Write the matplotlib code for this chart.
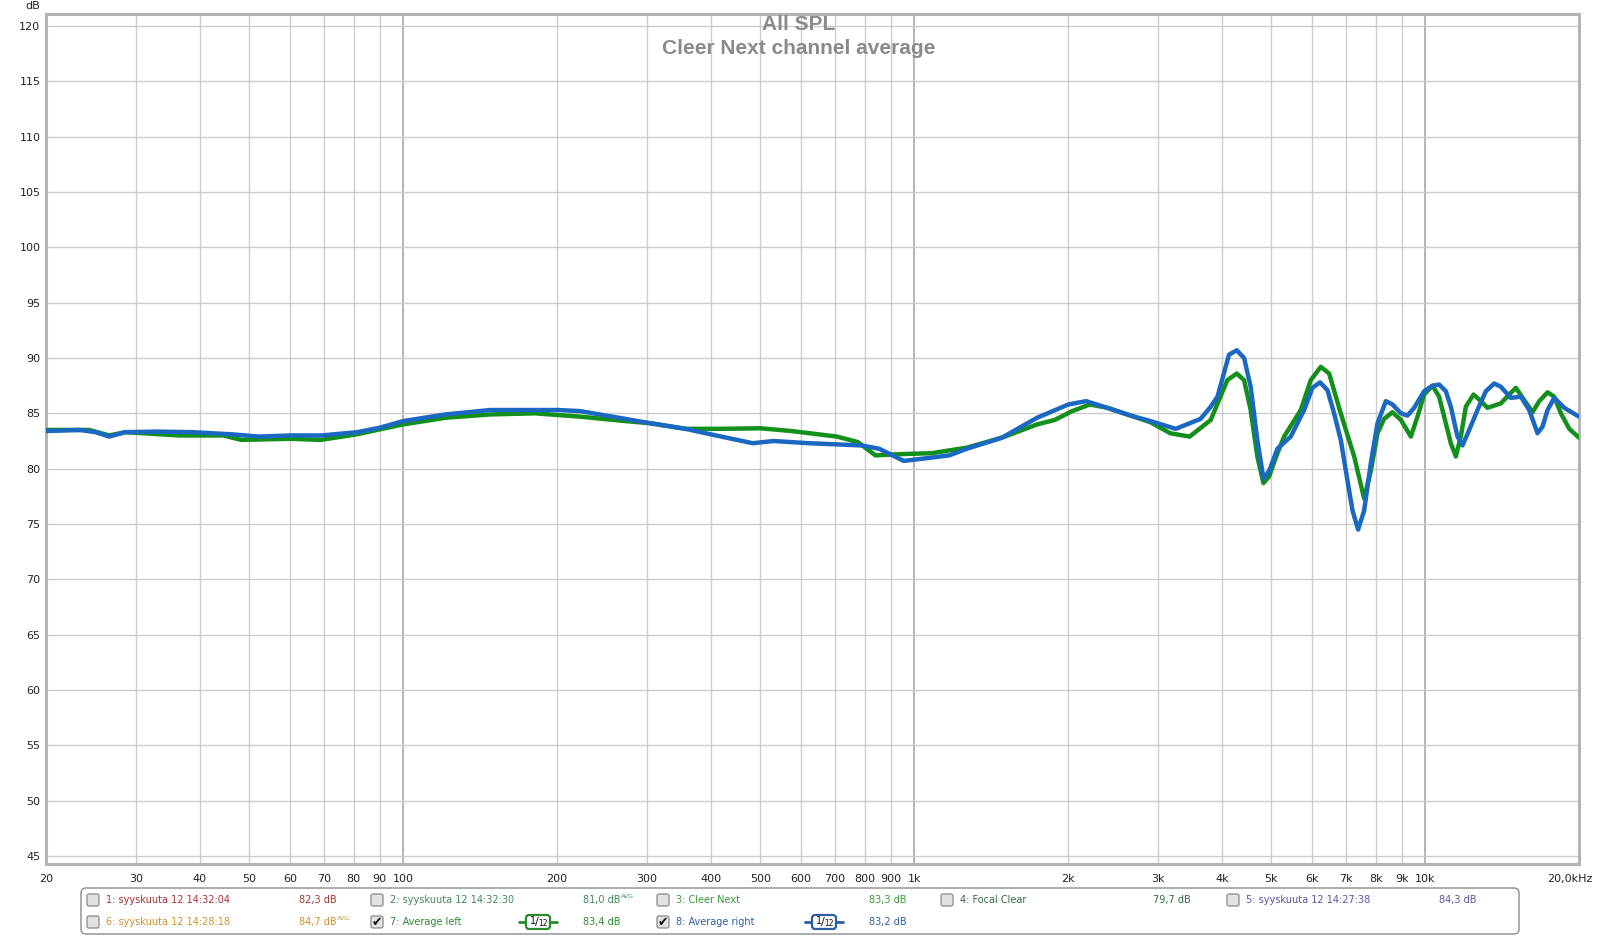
import matplotlib
matplotlib.use("Agg")
import matplotlib.pyplot as plt
import matplotlib.transforms as mtransforms
from matplotlib.patches import FancyBboxPatch

# ---------------- data ----------------
left_freq = [20, 24.3, 26.6, 28.6, 36.5, 44.5, 48.2, 60, 69, 81, 100, 121, 148, 181, 222, 272,
             305, 357, 419, 500, 575, 706, 776, 840, 924, 1082, 1268, 1485, 1740, 1883, 2038,
             2208, 2388, 2650, 2900, 3170, 3460, 3805, 4100, 4279, 4422, 4555, 4694, 4825,
             4950, 5139, 5296, 5709, 5972, 6247, 6487, 6836, 7262, 7595, 7828, 8067, 8311,
             8630, 8965, 9374, 9660, 9954, 10336, 10649, 10893, 11225, 11482, 11743, 12011,
             12434, 12851, 13243, 14065, 14601, 15048, 15625, 16224, 16718, 17358, 17889,
             18435, 19139, 20000]
left_db = [83.5, 83.5, 83.0, 83.3, 83.0, 83.0, 82.6, 82.7, 82.6, 83.1, 84.0, 84.6, 84.9, 85.0,
           84.7, 84.3, 84.1, 83.6, 83.6, 83.65, 83.4, 82.9, 82.4, 81.2, 81.3, 81.4, 81.9, 82.8,
           84.0, 84.4, 85.2, 85.8, 85.5, 84.8, 84.2, 83.2, 82.9, 84.4, 88.0, 88.6, 88.0, 85.3,
           81.1, 78.7, 79.3, 81.4, 82.9, 85.3, 88.0, 89.2, 88.6, 85.0, 81.1, 77.3, 79.8, 83.2,
           84.5, 85.1, 84.4, 82.9, 84.7, 86.7, 87.5, 86.5, 84.7, 82.3, 81.1, 82.9, 85.6, 86.7,
           86.1, 85.5, 85.9, 86.7, 87.3, 86.2, 85.1, 86.1, 86.9, 86.5, 85.0, 83.6, 82.8]

right_freq = [20, 23.3, 25.0, 26.6, 28.6, 32.9, 38.6, 46.3, 52.2, 60.1, 69.2, 81.3, 90, 100,
              121, 148, 201, 222, 272, 305, 357, 400, 483, 531, 622, 789, 854, 954, 1082, 1171,
              1268, 1485, 1740, 2003, 2170, 2388, 2650, 2900, 3249, 3635, 3805, 3922, 4132,
              4279, 4422, 4555, 4694, 4825, 4950, 5139, 5457, 5795, 6016, 6228, 6438, 6634,
              6836, 7047, 7209, 7392, 7595, 7828, 8067, 8376, 8630, 8965, 9233, 9515, 9954,
              10336, 10649, 10975, 11225, 11568, 11831, 12193, 12660, 13144, 13649, 14065,
              14712, 15391, 15980, 16592, 16970, 17358, 17889, 18711, 20000]
right_db = [83.4, 83.5, 83.3, 82.9, 83.3, 83.35, 83.3, 83.1, 82.9, 83.0, 83.0, 83.3, 83.7, 84.3,
            84.9, 85.3, 85.3, 85.2, 84.5, 84.1, 83.6, 83.1, 82.3, 82.5, 82.3, 82.1, 81.8, 80.7,
            81.0, 81.2, 81.8, 82.8, 84.6, 85.8, 86.1, 85.5, 84.8, 84.3, 83.6, 84.5, 85.6, 86.5,
            90.3, 90.7, 90.0, 87.4, 82.6, 79.1, 79.8, 81.8, 82.9, 85.3, 87.3, 87.8, 87.1, 85.0,
            82.6, 78.9, 76.2, 74.5, 76.2, 80.5, 84.1, 86.1, 85.8, 85.0, 84.8, 85.5, 87.0, 87.5,
            87.6, 87.0, 85.6, 82.9, 82.1, 83.5, 85.3, 87.0, 87.7, 87.4, 86.4, 86.5, 85.3, 83.2,
            83.8, 85.3, 86.4, 85.5, 84.7]

x_ticks = [20, 30, 40, 50, 60, 70, 80, 90, 100, 200, 300, 400, 500, 600, 700, 800, 900,
           1000, 2000, 3000, 4000, 5000, 6000, 7000, 8000, 9000, 10000, 20000]
x_labels = ["20", "30", "40", "50", "60", "70", "80", "90", "100", "200", "300", "400", "500",
            "600", "700", "800", "900", "1k", "2k", "3k", "4k", "5k", "6k", "7k", "8k", "9k",
            "10k", "20,0kHz"]
y_ticks = list(range(45, 121, 5))

legend_names = ["1: syyskuuta 12 14:32:04", "2: syyskuuta 12 14:32:30", "3: Cleer Next",
                "4: Focal Clear", "5: syyskuuta 12 14:27:38",
                "6: syyskuuta 12 14:28:18", "7: Average left", "8: Average right"]
legend_values = ["82,3 dB", "81,0 dB", "83,3 dB", "79,7 dB", "84,3 dB",
                 "84,7 dB", "83,4 dB", "83,2 dB"]
legend_avg = [False, True, False, False, False, True, False, False]
legend_checked = [False, False, False, False, False, False, True, True]
legend_smooth = [False, False, False, False, False, False, True, True]
legend_colors = ["#a83232", "#3e8a58", "#3a9a3a", "#2f6b40", "#5656a6",
                 "#d0912c", "#2a8c2a", "#2c5ea4"]

GREEN = "#12901a"
BLUE = "#1a68c2"

# ---------------- figure ----------------
W, H = 1600, 936
fig = plt.figure(figsize=(W / 100, H / 100), dpi=100)
fig.patch.set_facecolor("white")
plt.rcParams["font.family"] = ["DejaVu Sans"]

L, R, T, B = 46, 1579, 14, 864
ax = fig.add_axes([L / W, 1 - B / H, (R - L) / W, (B - T) / H])
ax.set_xscale("log")
ax.set_xlim(20, 20000)
ax.set_ylim(45 - 8 / 11.067, 120 + 12 / 11.067)

minor_grid = [30, 40, 50, 60, 70, 80, 90, 200, 300, 400, 500, 600, 700, 800, 900,
              2000, 3000, 4000, 5000, 6000, 7000, 8000, 9000, 20000]
for f in minor_grid:
    ax.axvline(f, color="#cccccc", lw=1.0, zorder=1)
for f in [100, 1000, 10000]:
    ax.axvline(f, color="#a0a0a0", lw=1.1, zorder=1)
for y in y_ticks:
    ax.axhline(y, color="#cccccc", lw=1.0, zorder=1)

ax.plot(left_freq, left_db, color=GREEN, lw=3.2, solid_joinstyle="round",
        solid_capstyle="round", zorder=3)
ax.plot(right_freq, right_db, color=BLUE, lw=3.2, solid_joinstyle="round",
        solid_capstyle="round", zorder=4)

for s in ax.spines.values():
    s.set_color("#b4b4b4")
    s.set_linewidth(2.2)

ax.set_xticks(x_ticks)
ax.set_xticklabels(x_labels)
ax.xaxis.set_minor_locator(matplotlib.ticker.NullLocator())
ax.set_yticks(y_ticks)
ax.set_yticklabels([str(v) for v in y_ticks])
ax.tick_params(axis="both", length=0, labelsize=8, colors="#222222")
ax.tick_params(axis="x", pad=7)
ax.tick_params(axis="y", pad=4)
lab = ax.get_xticklabels()[-1]
lab.set_horizontalalignment("right")
lab.set_transform(lab.get_transform() + mtransforms.ScaledTranslation(14 / 100, 0, fig.dpi_scale_trans))

fig.text(33 / W, 1 - 6 / H, "dB", ha="center", va="center", fontsize=8, color="#222222")

fig.text(799 / W, 1 - 25 / H, "All SPL", ha="center", va="center", fontsize=15,
         fontweight="bold", color="#8a8a8a", family=["Liberation Sans"])
fig.text(799 / W, 1 - 48 / H, "Cleer Next channel average", ha="center", va="center",
         fontsize=15, fontweight="bold", color="#8a8a8a", family=["Liberation Sans"])

# ---------------- legend ----------------
lax = fig.add_axes([0, 0, 1, 1], zorder=5)
lax.set_xlim(0, W)
lax.set_ylim(H, 0)
lax.axis("off")

lax.add_patch(FancyBboxPatch((81, 888), 1438, 46, boxstyle="round,pad=0,rounding_size=5",
                             fc="white", ec="#8c8c8c", lw=1.0))

col_box = [93, 377, 663, 947, 1233]
col_val = [299, 583, 869, 1153, 1439]
row_y = [900, 922]
pos = [(0, 0), (0, 1), (0, 2), (0, 3), (0, 4), (1, 0), (1, 1), (1, 2)]

for i, (r, c) in enumerate(pos):
    y = row_y[r]
    bx = col_box[c]
    lax.add_patch(FancyBboxPatch((bx - 6, y - 6), 12, 12, boxstyle="round,pad=0,rounding_size=2",
                                 fc="#e2e2e2", ec="#8a8a8a", lw=0.9))
    if legend_checked[i]:
        lax.text(bx, y + 0.5, "✔", ha="center", va="center", fontsize=9,
                 color="#111111", family=["DejaVu Sans"])
    col = legend_colors[i]
    lax.text(bx + 13, y, legend_names[i], ha="left", va="center", fontsize=7, color=col)
    lax.text(col_val[c], y, legend_values[i], ha="left", va="center", fontsize=7, color=col)
    if legend_avg[i]:
        lax.text(col_val[c] + 38, y - 4, "AVG", ha="left", va="center", fontsize=4.5, color=col)
    if legend_smooth[i]:
        cx = col_val[c] - 45
        lax.plot([cx - 19, cx + 19], [y, y], color=col, lw=2.0, solid_capstyle="round")
        lax.add_patch(FancyBboxPatch((cx - 12, y - 7), 24, 14,
                                     boxstyle="round,pad=0,rounding_size=3",
                                     fc="white", ec=col, lw=1.6, zorder=6))
        lax.text(cx - 5, y - 1, "1", ha="center", va="center", fontsize=7, color="#111111", zorder=7)
        lax.text(cx - 1, y, "/", ha="center", va="center", fontsize=8, color="#111111", zorder=7)
        lax.text(cx + 5, y + 2, "12", ha="center", va="center", fontsize=5.5, color="#111111", zorder=7)

fig.savefig("out.png", dpi=100, facecolor="white")
